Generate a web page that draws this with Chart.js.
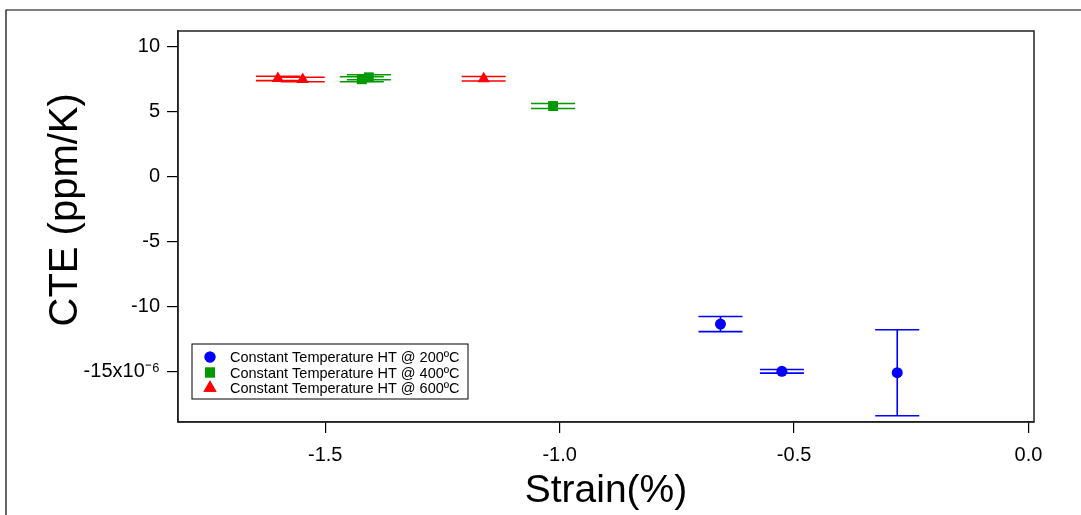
<!DOCTYPE html>
<html>
<head>
<meta charset="utf-8">
<script src="https://cdn.jsdelivr.net/npm/chart.js@4.4.1/dist/chart.umd.min.js"></script>
<style>
  html, body { margin: 0; padding: 0; background: #fff; }
</style>
</head>
<body>
<canvas id="cteChart" width="1081" height="515"></canvas>
<script>
// serie labels
var serieNames = ['Constant Temperature HT @ 200ºC', 'Constant Temperature HT @ 400ºC', 'Constant Temperature HT @ 600ºC'];

// 200ºC (blue circles)
var strain200 = [-0.657, -0.526, -0.280];
var cte200    = [-11.35, -14.98, -15.09];
var err200    = [0.58, 0.14, 3.31];

// 400ºC (green squares)
var strain400 = [-1.422, -1.407, -1.014];
var cte400    = [7.48, 7.63, 5.42];
var err400    = [0.19, 0.19, 0.19];

// 600ºC (red triangles)
var strain600 = [-1.601, -1.548, -1.162];
var cte600    = [7.54, 7.46, 7.52];
var err600    = [0.17, 0.17, 0.17];

// ticks
var xTickVals = [-1.5, -1.0, -0.5, 0.0];
var yTickVals = [-15, -10, -5, 0, 5, 10];

Chart.defaults.font.family = '"Liberation Sans", Arial, sans-serif';
Chart.defaults.color = '#000';

function toPoints(xs, ys) {
  return xs.map(function(x, i) { return { x: x, y: ys[i] }; });
}

// barras de erro verticais, desenhadas antes dos pontos
var errorBars = {
  id: 'errorBars',
  beforeDatasetsDraw: function(chart) {
    var ctx = chart.ctx;
    var sx = chart.scales.x, sy = chart.scales.y;
    chart.data.datasets.forEach(function(ds) {
      ctx.save();
      ctx.strokeStyle = ds.borderColor;
      ctx.lineWidth = 1.6;
      ds.data.forEach(function(p, i) {
        var px = sx.getPixelForValue(p.x);
        var hi = sy.getPixelForValue(p.y + ds.errors[i]);
        var lo = sy.getPixelForValue(p.y - ds.errors[i]);
        ctx.beginPath();
        ctx.moveTo(px, hi); ctx.lineTo(px, lo);
        ctx.moveTo(px - 22, hi); ctx.lineTo(px + 22, hi);
        ctx.moveTo(px - 22, lo); ctx.lineTo(px + 22, lo);
        ctx.stroke();
      });
      ctx.restore();
    });
  }
};

// moldura do gráfico + moldura externa
var frames = {
  id: 'frames',
  afterDraw: function(chart) {
    var ctx = chart.ctx, a = chart.chartArea;
    ctx.save();
    ctx.strokeStyle = '#222';
    ctx.lineWidth = 1.5;
    ctx.strokeRect(a.left, a.top, a.right - a.left, a.bottom - a.top);
    ctx.strokeStyle = '#000';
    ctx.lineWidth = 1.2;
    ctx.beginPath();
    ctx.moveTo(6, chart.height); ctx.lineTo(6, 10); ctx.lineTo(chart.width, 10);
    ctx.stroke();
    ctx.restore();
  }
};

// legenda dentro da área do gráfico
var boxLegend = {
  id: 'boxLegend',
  afterDraw: function(chart) {
    var ctx = chart.ctx;
    ctx.save();
    ctx.fillStyle = '#fff';
    ctx.fillRect(192, 344, 276, 55);
    ctx.strokeStyle = '#000';
    ctx.lineWidth = 1;
    ctx.strokeRect(192, 344, 276, 55);
    ctx.font = '14.5px "Liberation Sans", Arial, sans-serif';
    ctx.textBaseline = 'middle';
    chart.data.datasets.forEach(function(ds, i) {
      var y = 357 + i * 15.5;
      ctx.fillStyle = ds.backgroundColor;
      ctx.beginPath();
      Chart.helpers.drawPoint(ctx, {
        pointStyle: ds.pointStyle, radius: ds.legendRadius, borderWidth: 0
      }, 210, y);
      ctx.fill();
      ctx.fillStyle = '#000';
      ctx.fillText(ds.label, 230, y + 1);
    });
    ctx.restore();
  }
};

var ctx = document.getElementById('cteChart').getContext('2d');
var cteChart = new Chart(ctx, {
  type: 'scatter',
  data: {
    datasets: [{
      label: serieNames[0],
      data: toPoints(strain200, cte200),
      errors: err200,
      pointStyle: 'circle',
      pointRadius: 5.5,
      legendRadius: 5.5,
      backgroundColor: 'rgb(0, 0, 255)',
      borderColor: 'rgb(0, 0, 255)',
      borderWidth: 0
    }, {
      label: serieNames[1],
      data: toPoints(strain400, cte400),
      errors: err400,
      pointStyle: 'rect',
      pointRadius: 7,
      legendRadius: 7,
      backgroundColor: 'rgb(0, 153, 0)',
      borderColor: 'rgb(0, 153, 0)',
      borderWidth: 0
    }, {
      label: serieNames[2],
      data: toPoints(strain600, cte600),
      errors: err600,
      pointStyle: 'triangle',
      pointRadius: 7,
      legendRadius: 7.5,
      backgroundColor: 'rgb(255, 0, 0)',
      borderColor: 'rgb(255, 0, 0)',
      borderWidth: 0
    }]
  },
  options: {
    responsive: false,
    animation: false,
    layout: { padding: { top: 31, right: 47, left: 0, bottom: 0 } },
    plugins: {
      legend: { display: false },
      tooltip: { enabled: false }
    },
    scales: {
      x: {
        type: 'linear',
        position: 'bottom',
        min: -1.814,
        max: 0.0117,
        afterBuildTicks: function(scale) {
          scale.ticks = xTickVals.map(function(v) { return { value: v }; });
        },
        afterFit: function(scale) { scale.height = 93; },
        grid: { drawOnChartArea: false, tickLength: 11, color: '#000', lineWidth: 1.2 },
        border: { color: '#222', width: 1.5 },
        ticks: {
          padding: 10,
          font: { size: 20 },
          color: '#000',
          callback: function(v) { return v.toFixed(1); }
        },
        title: {
          display: true,
          text: 'Strain(%)',
          font: { size: 39 },
          color: '#000',
          padding: { top: 0, bottom: 0 }
        }
      },
      y: {
        type: 'linear',
        position: 'left',
        min: -18.88,
        max: 11.19,
        afterBuildTicks: function(scale) {
          scale.ticks = yTickVals.map(function(v) { return { value: v }; });
        },
        afterFit: function(scale) { scale.width = 178; },
        grid: { drawOnChartArea: false, tickLength: 11, color: '#000', lineWidth: 1.2 },
        border: { color: '#222', width: 1.5 },
        ticks: {
          padding: 7,
          font: { size: 20 },
          color: '#000',
          callback: function(v) { return v === -15 ? '-15x10⁻⁶' : String(v); }
        },
        title: {
          display: true,
          // leading spaces lift the rotated title a little above the axis centre
          text: '   CTE (ppm/K)',
          font: { size: 40 },
          color: '#000',
          padding: { top: 42, bottom: 0 }
        }
      }
    }
  },
  plugins: [errorBars, frames, boxLegend]
});
</script>
</body>
</html>
